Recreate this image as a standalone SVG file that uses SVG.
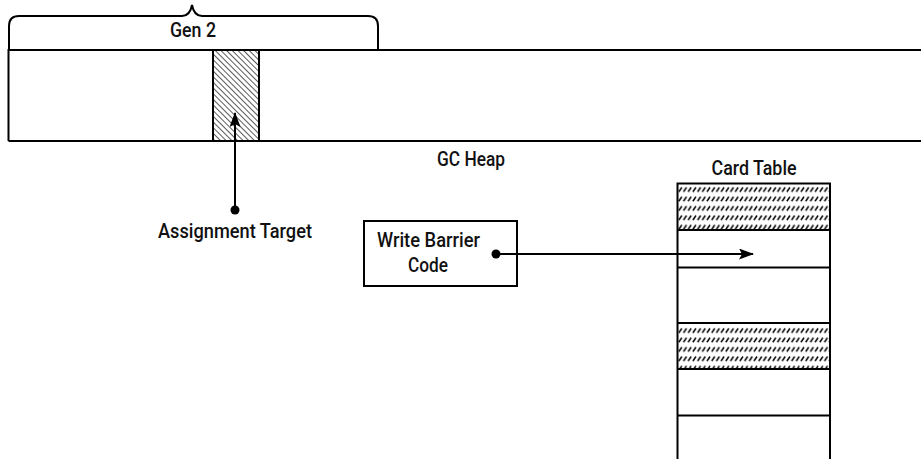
<svg xmlns="http://www.w3.org/2000/svg" width="921" height="459" viewBox="0 0 921 459">
<style>
.ln{fill:none;stroke:#000;stroke-width:2}
.box{fill:#fff;stroke:#000;stroke-width:2}
.t{font-family:Roboto,"Liberation Sans",sans-serif;font-weight:500;font-size:20.5px;fill:#111;text-anchor:middle}
</style>
<defs>
<pattern id="bs" width="4" height="4" patternUnits="userSpaceOnUse" patternTransform="rotate(-45)">
<rect width="4" height="4" fill="#fff"/>
<line x1="0" y1="0" x2="0" y2="4" stroke="#000" stroke-width="1.3"/>
</pattern>
<pattern id="fs" width="4.7" height="9.4" patternUnits="userSpaceOnUse" x="678" y="185">
<rect width="4.7" height="9.4" fill="#fff"/>
<line x1="0.8" y1="6.8" x2="3.8" y2="2.4" stroke="#000" stroke-width="1.5"/>
</pattern>
<marker id="ah" markerWidth="15" markerHeight="11" refX="14" refY="5.5" orient="auto" markerUnits="userSpaceOnUse">
<path d="M0,0 L15,5.5 L0,11 L3,5.5 Z" fill="#000"/>
</marker>
</defs>

<g id="gen2-brace">
<path class="ln" d="M9,50 V26 Q9,16 19,16 H182 Q190,16 192,5 Q194,16 202,16 H368 Q378,16 378,26 V50"/>
<text class="t" x="193" y="37" textLength="46" lengthAdjust="spacingAndGlyphs">Gen 2</text>
</g>

<g id="gc-heap">
<path class="ln" d="M8.5,141 V50 H921 M8.5,141 H921"/>
<rect x="213" y="50" width="46" height="91" fill="url(#bs)" stroke="#000" stroke-width="2"/>
<text class="t" x="471" y="166" textLength="68" lengthAdjust="spacingAndGlyphs">GC Heap</text>
</g>

<g id="assignment-target">
<text class="t" x="235" y="238" textLength="154" lengthAdjust="spacingAndGlyphs">Assignment Target</text>
</g>

<g id="write-barrier">
<rect class="box" x="364" y="221" width="153" height="65"/>
<text class="t" x="428.5" y="247" textLength="103" lengthAdjust="spacingAndGlyphs">Write Barrier</text>
<text class="t" x="428" y="272" textLength="40" lengthAdjust="spacingAndGlyphs">Code</text>
</g>

<g id="card-table">
<text class="t" x="754" y="175" textLength="85" lengthAdjust="spacingAndGlyphs">Card Table</text>
<rect x="677.5" y="184" width="152.5" height="46" fill="url(#fs)"/>
<rect x="677.5" y="323" width="152.5" height="46" fill="url(#fs)"/>
<path class="ln" d="M677.5,460 V183.5 H830 V460 M677.5,230 H830 M677.5,267.5 H830 M677.5,323 H830 M677.5,369 H830 M677.5,415.5 H830"/>
</g>

<g id="connectors">
<line x1="235" y1="210" x2="235" y2="113" stroke="#000" stroke-width="2" marker-end="url(#ah)"/>
<circle cx="235" cy="210" r="4.5" fill="#000"/>
<line x1="496" y1="254" x2="753" y2="254" stroke="#000" stroke-width="1.8" marker-end="url(#ah)"/>
<circle cx="496" cy="254" r="4.5" fill="#000"/>
</g>
</svg>
